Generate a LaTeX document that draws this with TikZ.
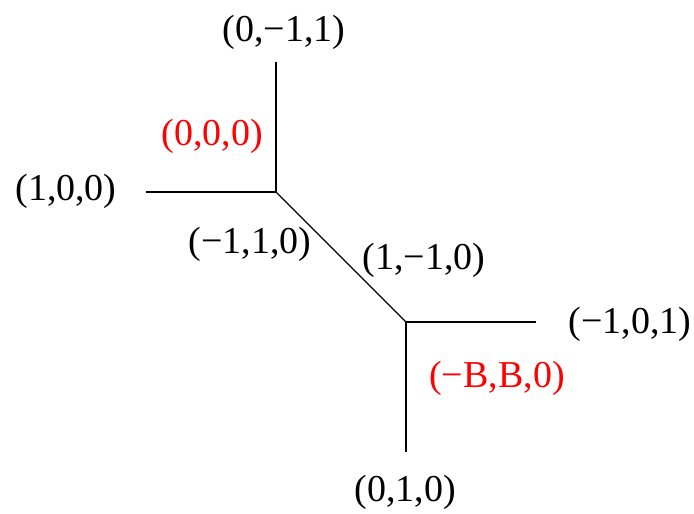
\documentclass[tikz,border=0pt]{standalone}
\usepackage{fontspec}
\setmainfont{Liberation Serif}
\begin{document}
\begin{tikzpicture}[x=1pt,y=-1pt,
  lbl/.style={font=\fontsize{38}{42}\selectfont, inner sep=0pt, text=black},
  rlbl/.style={lbl, text=red},
  edge/.style={draw=black, line width=1.3pt}]
\useasboundingbox (0,0) rectangle (694,514);
\coordinate (top) at (276,62);
\coordinate (left) at (146,192);
\coordinate (a) at (276,192);
\coordinate (b) at (406,322);
\coordinate (right) at (536,322);
\coordinate (bot) at (406,452);
\draw[edge] (top) -- (a);
\draw[edge] (left) -- (a);
\draw[edge] (a) -- (b);
\draw[edge] (b) -- (right);
\draw[edge] (b) -- (bot);
\node[lbl] (ltop) at (284,32) {(0,−1,1)};
\node[rlbl] (lorig) at (212,136) {(0,0,0)};
\node[lbl] (lleft) at (66,191) {(1,0,0)};
\node[lbl] (ldiag1) at (250,244) {(−1,1,0)};
\node[lbl] (ldiag2) at (424,260) {(1,−1,0)};
\node[lbl] (lright) at (630,324) {(−1,0,1)};
\node[rlbl] (lB) at (497,378) {(−B,B,0)};
\node[lbl] (lbot) at (405,492) {(0,1,0)};
\end{tikzpicture}
\end{document}
